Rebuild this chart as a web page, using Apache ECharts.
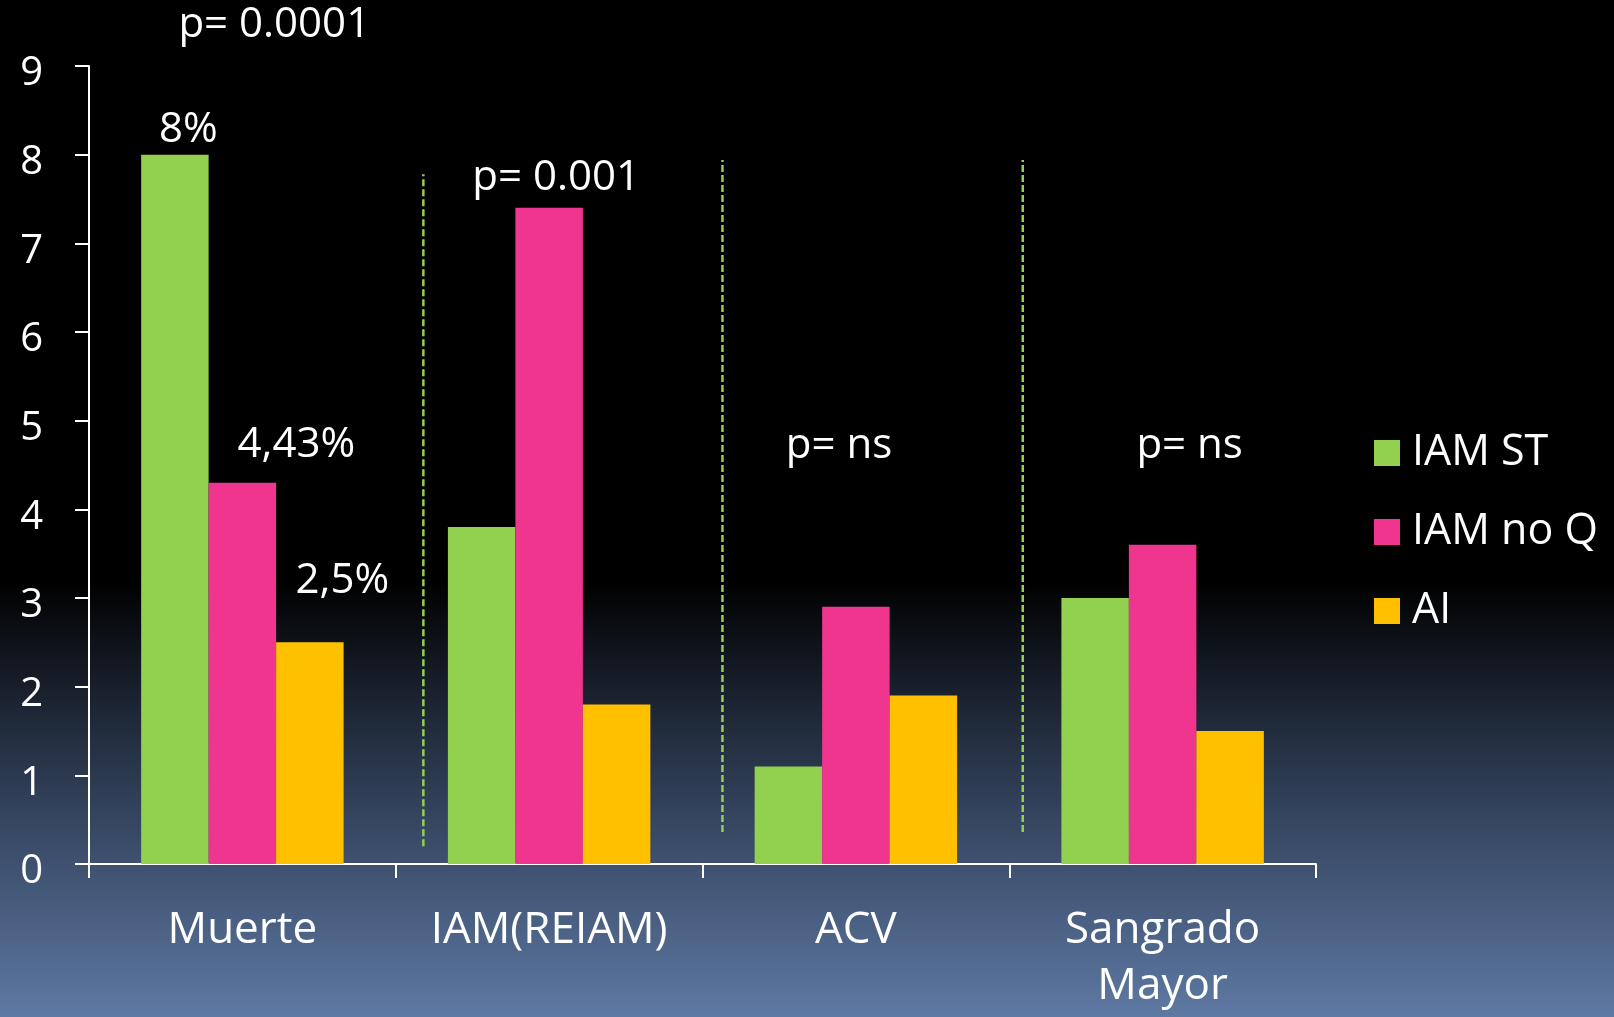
<!DOCTYPE html>
<html>
<head>
<meta charset="utf-8">
<script src="https://cdn.jsdelivr.net/npm/echarts@6/dist/echarts.min.js"></script>
<style>
  html, body { margin: 0; padding: 0; background: #000; }
  #chart { width: 1614px; height: 1017px; }
</style>
</head>
<body>
<div id="chart"></div>
<script>
// data
const categories = ["Muerte", "IAM(REIAM)", "ACV", "Sangrado\nMayor"];
const iamST = [8, 3.8, 1.1, 3.0];
const iamNoQ = [4.3, 7.4, 2.9, 3.6];
const ai = [2.5, 1.8, 1.9, 1.5];
const yTicks = [0, 1, 2, 3, 4, 5, 6, 7, 8, 9];

// dashed dividers between groups (x in category units, y in axis units)
const dividerX = [1.09, 2.065, 3.044];
const dividerFrom = [0.2, 0.36, 0.36];
const dividerTo = [7.78, 7.94, 7.94];

// text notes placed in the same units
const noteX = [0.604, 0.324, 0.676, 0.826, 1.523, 2.445, 3.588];
const noteY = [9.46, 8.28, 4.72, 3.19, 7.74, 4.71, 4.71];
const noteText = ["p= 0.0001", "8%", "4,43%", "2,5%", "p= 0.001", "p= ns", "p= ns"];

const font = "'Open Sans', 'DejaVu Sans', sans-serif";
const chart = echarts.init(document.getElementById("chart"));

const barSeries = (name, data, color) => ({
  name: name,
  type: "bar",
  data: data,
  barGap: "0%",
  barCategoryGap: "34%",
  itemStyle: { color: color },
  z: 2,
});

const dividers = dividerX.map((x, i) => ({
  type: "line",
  xAxisIndex: 1,
  data: [[x, dividerFrom[i]], [x, dividerTo[i]]],
  symbol: "none",
  lineStyle: { color: "#92d050", width: 2.5, type: [7, 3] },
  silent: true,
  z: 1,
}));

const option = {
  animation: false,
  backgroundColor: {
    type: "linear", x: 0, y: 0, x2: 0, y2: 1,
    colorStops: [
      { offset: 0, color: "#000000" },
      { offset: 0.57, color: "#000000" },
      { offset: 0.8, color: "#34445e" },
      { offset: 1, color: "#5e79a3" },
    ],
  },
  textStyle: { fontFamily: font },
  grid: { left: 89, right: 298, top: 66, bottom: 153 },
  legend: {
    orient: "vertical",
    left: 1374,
    top: 431,
    padding: 0,
    itemWidth: 26,
    itemHeight: 26,
    itemGap: 35,
    icon: "rect",
    data: ["IAM ST", "IAM no Q", "AI"],
    textStyle: {
      color: "#fff", fontSize: 43, fontFamily: font,
      lineHeight: 44, padding: [0, 0, 0, 7],
    },
  },
  xAxis: [
    {
      type: "category",
      data: categories,
      axisLine: { lineStyle: { color: "#fff", width: 2 } },
      axisTick: { show: true, interval: 0, length: 14, lineStyle: { color: "#fff", width: 2 } },
      axisLabel: {
        interval: 0,
        color: "#fff", fontSize: 44, fontFamily: font,
        lineHeight: 56, margin: 38,
      },
    },
    { type: "value", min: 0, max: 4, show: false },
  ],
  yAxis: {
    type: "value",
    min: 0,
    max: 9,
    interval: 1,
    splitLine: { show: false },
    axisLine: { show: true, lineStyle: { color: "#fff", width: 2 } },
    axisTick: { show: true, length: 14, lineStyle: { color: "#fff", width: 2 } },
    axisLabel: {
      margin: 46,
      formatter: (v) => (yTicks.includes(v) ? "{t|" + v + "}" : ""),
      rich: {
        t: {
          color: "#fff", fontSize: 40, fontFamily: font,
          padding: [16, 0, 0, 0],
        },
      },
    },
  },
  series: [
    barSeries("IAM ST", iamST, "#92d050"),
    barSeries("IAM no Q", iamNoQ, "#f0358e"),
    barSeries("AI", ai, "#ffc000"),
    ...dividers,
    {
      type: "scatter",
      xAxisIndex: 1,
      clip: false,
      silent: true,
      symbolSize: 0,
      itemStyle: { color: "#ffffff", opacity: 1 },
      data: noteX.map((x, i) => [x, noteY[i], noteText[i]]),
      label: {
        show: true,
        position: "inside",
        color: "#ffffff",
        opacity: 1,
        fontSize: 42,
        fontFamily: font,
        formatter: (p) => p.data[2],
      },
      z: 5,
    },
  ],
};

chart.setOption(option);
</script>
</body>
</html>
